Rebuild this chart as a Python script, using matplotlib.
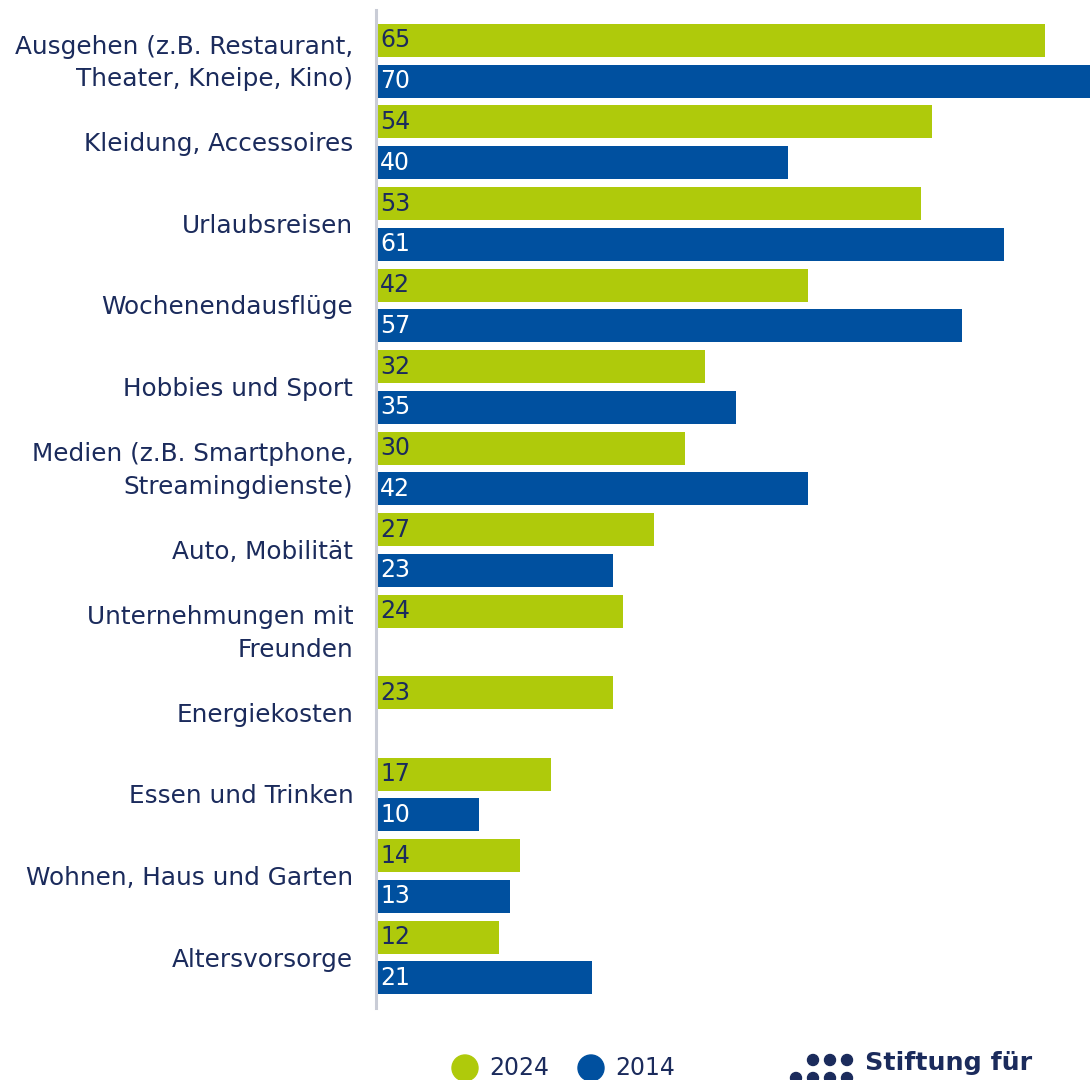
import matplotlib
matplotlib.use("Agg")
import matplotlib.pyplot as plt
from matplotlib.patches import Ellipse

categories = [
    "Ausgehen (z.B. Restaurant,\nTheater, Kneipe, Kino)",
    "Kleidung, Accessoires",
    "Urlaubsreisen",
    "Wochenendausflüge",
    "Hobbies und Sport",
    "Medien (z.B. Smartphone,\nStreamingdienste)",
    "Auto, Mobilität",
    "Unternehmungen mit\nFreunden",
    "Energiekosten",
    "Essen und Trinken",
    "Wohnen, Haus und Garten",
    "Altersvorsorge",
]
values_2024 = [65, 54, 53, 42, 32, 30, 27, 24, 23, 17, 14, 12]
values_2014 = [70, 40, 61, 57, 35, 42, 23, None, None, 10, 13, 21]
series_names = ["2024", "2014"]

GREEN = "#afca0b"
BLUE = "#00509f"
NAVY = "#1b2b5c"
FONT = "DejaVu Sans"
FS = 17
FS_LAB = 17.8

W, H = 1090, 1080
fig = plt.figure(figsize=(W / 100, H / 100), dpi=100)
ax = fig.add_axes([376 / W, (H - 1008) / H, (W - 376) / W, (1008 - 10) / H])

bh = 33 / 40.75
for i, (a, b) in enumerate(zip(values_2024, values_2014)):
    y1 = 2 * i
    ax.barh(y1, a, height=bh, color=GREEN, align="center")
    ax.text(0.4, y1, str(a), va="center", ha="left", color=NAVY, fontsize=FS, family=FONT)
    if b is not None:
        y2 = 2 * i + 1
        ax.barh(y2, b, height=bh, color=BLUE, align="center")
        ax.text(0.4, y2, str(b), va="center", ha="left", color="white", fontsize=FS, family=FONT)
    ax.text(-2.2, 2 * i + 0.55, categories[i], ha="right", va="center", color=NAVY,
            fontsize=FS_LAB, family=FONT, linespacing=1.45, clip_on=False)

ax.set_xlim(0, 69.4)
ax.set_ylim(23.74, -0.748)
ax.set_xticks([])
ax.set_yticks([])
for s in ["top", "right", "bottom"]:
    ax.spines[s].set_visible(False)
ax.spines["left"].set_color("#c9ccd6")
ax.spines["left"].set_linewidth(2.2)

# legend
def fx(px):
    return px / W
def fy(py):
    return 1 - py / H

for cx, col, name in [(465, GREEN, series_names[0]), (591, BLUE, series_names[1])]:
    fig.patches.append(Ellipse((fx(cx), fy(1068)), 26 / W, 26 / H, color=col,
                               transform=fig.transFigure))
    fig.text(fx(cx + 24), fy(1068), name, ha="left", va="center", color=NAVY,
             fontsize=FS, family=FONT)

# logo
for (dx, dy) in [(813, 1060), (830, 1060), (847, 1060), (796, 1078), (813, 1078), (830, 1078), (847, 1078)]:
    fig.patches.append(Ellipse((fx(dx), fy(dy)), 11 / W, 11 / H, color=NAVY,
                               transform=fig.transFigure))
fig.text(fx(865), fy(1063), "Stiftung für", ha="left", va="center", color=NAVY,
         fontsize=18.3, fontweight="bold", family=FONT)

fig.savefig("out.png", dpi=100)
